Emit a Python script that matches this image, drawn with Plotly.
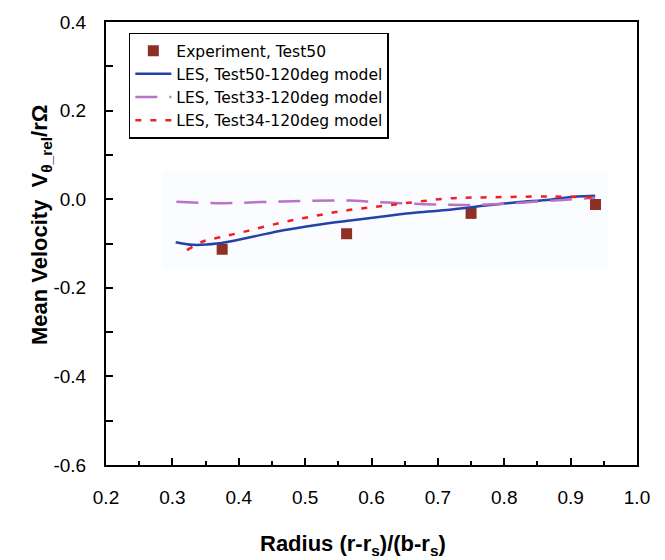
import plotly.graph_objects as go

# Experiment, Test50
exp_x = [0.375, 0.5625, 0.75, 0.9375]
exp_y = [-0.113, -0.078, -0.032, -0.012]

# LES, Test50-120deg model
les50_x = [0.305, 0.331, 0.367, 0.417, 0.467, 0.517, 0.568, 0.617, 0.668, 0.718, 0.768, 0.819, 0.869, 0.909, 0.937]
les50_y = [-0.097, -0.103, -0.100, -0.086, -0.070, -0.058, -0.048, -0.039, -0.030, -0.024, -0.015, -0.007, -0.001, 0.006, 0.008]

# LES, Test33-120deg model
les33_x = [0.306, 0.367, 0.467, 0.568, 0.593, 0.643, 0.693, 0.743, 0.794, 0.844, 0.894, 0.937]
les33_y = [-0.006, -0.009, -0.005, -0.003, -0.005, -0.009, -0.012, -0.013, -0.011, -0.006, -0.001, 0.003]

# LES, Test34-120deg model
les34_x = [0.322, 0.347, 0.372, 0.412, 0.467, 0.517, 0.568, 0.618, 0.668, 0.718, 0.768, 0.869, 0.937]
les34_y = [-0.115, -0.095, -0.086, -0.072, -0.052, -0.037, -0.024, -0.015, -0.006, 0.002, 0.004, 0.006, 0.004]

x_ticks = [0.2, 0.3, 0.4, 0.5, 0.6, 0.7, 0.8, 0.9, 1.0]
y_ticks = [0.4, 0.2, 0.0, -0.2, -0.4, -0.6]

fig = go.Figure()
fig.add_trace(go.Scatter(x=exp_x, y=exp_y, mode="markers", name="Experiment, Test50",
                         marker=dict(symbol="square", size=11, color="#8e3024")))
fig.add_trace(go.Scatter(x=les50_x, y=les50_y, mode="lines", name="LES, Test50-120deg model",
                         line=dict(color="#2442a8", width=2.5, shape="spline")))
fig.add_trace(go.Scatter(x=les33_x, y=les33_y, mode="lines", name="LES, Test33-120deg model",
                         line=dict(color="#b773c6", width=2.5, dash="22px,12px", shape="spline")))
fig.add_trace(go.Scatter(x=les34_x, y=les34_y, mode="lines", name="LES, Test34-120deg model",
                         line=dict(color="#f02020", width=2.5, dash="6px,9px", shape="spline")))

font = "Liberation Sans, Arial, sans-serif"
fig.update_layout(
    width=665, height=560,
    margin=dict(l=106, r=28, t=18, b=95),
    paper_bgcolor="white", plot_bgcolor="white",
    font=dict(family=font, size=19, color="black"),
    showlegend=True,
    legend=dict(x=0.043, y=0.976, xanchor="left", yanchor="top",
                bordercolor="black", borderwidth=1.5, bgcolor="white",
                font=dict(size=15.5, family="DejaVu Sans, sans-serif"), tracegroupgap=0,
                itemwidth=36),
    shapes=[dict(type="rect", xref="x domain", yref="y domain", x0=0.105, x1=0.945,
                 y0=0.441, y1=0.664, fillcolor="#fafcff", line=dict(width=0), layer="below")],
    annotations=[
        dict(text="<b>Radius (r-r<sub>s</sub>)/(b-r<sub>s</sub>)</b>", xref="paper", yref="paper",
             x=0.465, y=-0.18, xanchor="center", yanchor="middle", showarrow=False,
             font=dict(size=22, family=font)),
        dict(text="<b>Mean Velocity  V<sub>θ_rel</sub>/rΩ</b>", xref="paper", yref="paper",
             x=-0.122, y=0.542, xanchor="center", yanchor="middle", showarrow=False, textangle=-90,
             font=dict(size=22, family=font)),
    ],
)
fig.update_xaxes(range=[0.2, 1.0], tickvals=x_ticks, ticktext=[f"{v:.1f}" for v in x_ticks],
                 ticks="inside", ticklen=7, tickwidth=1.5, tickcolor="black",
                 showline=True, linecolor="black", linewidth=2, mirror=True,
                 showgrid=False, zeroline=False, ticklabelstandoff=14,
                 minor=dict(ticks="inside", ticklen=4, tickwidth=1.5, tickcolor="black", dtick=0.05, showgrid=False))
fig.update_yaxes(range=[-0.6, 0.4], tickvals=y_ticks, ticktext=[f"{v:.1f}" for v in y_ticks],
                 ticks="inside", ticklen=7, tickwidth=1.5, tickcolor="black",
                 showline=True, linecolor="black", linewidth=2, mirror=True,
                 showgrid=False, zeroline=False, ticklabelstandoff=14,
                 minor=dict(ticks="inside", ticklen=7, tickwidth=1.5, tickcolor="black", dtick=0.1, showgrid=False))

fig.write_html("out.html")
